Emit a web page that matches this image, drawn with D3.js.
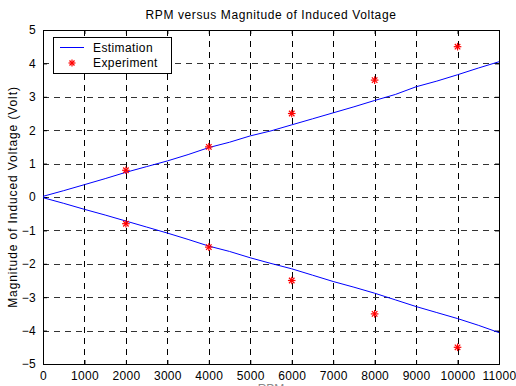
<!DOCTYPE html>
<html>
<head>
<meta charset="utf-8">
<script src="https://cdn.jsdelivr.net/npm/d3@7"></script>
<style>
  body { margin: 0; background: #fff; }
  svg { display: block; font-family: "Liberation Sans", Arial, sans-serif; }
</style>
</head>
<body>
<svg id="chart" width="516" height="386"></svg>
<script>
// values
var rpm = [0, 500, 1000, 1500, 2000, 2500, 3000, 3500, 4000, 4500, 5000, 5500,
           6000, 6500, 7000, 7500, 8000, 8500, 9000, 9500, 10000, 10500, 11000];
var estUpper = [0.02, 0.19, 0.37, 0.55, 0.74, 0.91, 1.08, 1.27, 1.48, 1.64, 1.83, 1.98,
                2.16, 2.34, 2.52, 2.70, 2.89, 3.07, 3.30, 3.47, 3.66, 3.86, 4.05];
var estLower = [-0.02, -0.19, -0.37, -0.54, -0.72, -0.90, -1.08, -1.27, -1.47, -1.63, -1.82, -1.99,
                -2.15, -2.34, -2.53, -2.70, -2.88, -3.08, -3.28, -3.46, -3.64, -3.84, -4.06];
var expRpm = [2000, 4000, 6000, 8000, 10000];
var expUpper = [0.8, 1.5, 2.5, 3.5, 4.5];
var expLower = [-0.8, -1.5, -2.5, -3.5, -4.5];
var xTicks = [0, 1000, 2000, 3000, 4000, 5000, 6000, 7000, 8000, 9000, 10000, 11000];
var yTicks = [-5, -4, -3, -2, -1, 0, 1, 2, 3, 4, 5];

var svg = d3.select("#chart");
var margin = {left: 43, top: 30, right: 17, bottom: 22};
var W = 516, H = 386;
var x = d3.scaleLinear().domain([0, 11000]).range([margin.left, W - margin.right]);
var y = d3.scaleLinear().domain([-5, 5]).range([H - margin.bottom, margin.top]);

// grid
var grid = svg.append("g");
grid.selectAll(".gx").data(xTicks.slice(1, -1)).enter().append("line")
    .attr("x1", function(d) { return Math.round(x(d)) + 0.5; })
    .attr("x2", function(d) { return Math.round(x(d)) + 0.5; })
    .attr("y1", y(5)).attr("y2", y(-5))
    .attr("stroke", "#000").attr("stroke-dasharray", "6,5");
grid.selectAll(".gy").data(yTicks.slice(1, -1)).enter().append("line")
    .attr("x1", x(0)).attr("x2", x(11000))
    .attr("y1", function(d) { return Math.round(y(d)) + 0.5; })
    .attr("y2", function(d) { return Math.round(y(d)) + 0.5; })
    .attr("stroke", "#333").attr("stroke-dasharray", "6,5");

// axes (ticks inside, box on)
var fmt = d3.format("d");
var axB = svg.append("g").attr("transform", "translate(0," + y(-5) + ")")
    .call(d3.axisBottom(x).tickValues(xTicks).tickSize(-4).tickPadding(7).tickFormat(fmt));
var axT = svg.append("g").attr("transform", "translate(0," + y(5) + ")")
    .call(d3.axisTop(x).tickValues(xTicks).tickSize(-4).tickFormat(""));
var axL = svg.append("g").attr("transform", "translate(" + x(0) + ",0)")
    .call(d3.axisLeft(y).tickValues(yTicks).tickSize(-4).tickPadding(7).tickFormat(fmt));
var axR = svg.append("g").attr("transform", "translate(" + x(11000) + ",0)")
    .call(d3.axisRight(y).tickValues(yTicks).tickSize(-4).tickFormat(""));
[axB, axT, axL, axR].forEach(function(a) {
  a.select(".domain").attr("stroke", "#000");
  a.selectAll("text").attr("font-size", 12).attr("fill", "#000").attr("letter-spacing", 0.3)
    .attr("font-family", "Liberation Sans, Arial, sans-serif");
});

// estimation lines
var line = d3.line().x(function(d) { return x(d[0]); }).y(function(d) { return y(d[1]); });
[estUpper, estLower].forEach(function(s) {
  svg.append("path").datum(rpm.map(function(r, i) { return [r, s[i]]; }))
    .attr("d", line).attr("fill", "none").attr("stroke", "#0000ff").attr("stroke-width", 1);
});

// asterisk marker
function star(g, cx, cy, r) {
  var k = r * 0.72;
  var segs = [[-r, 0, r, 0], [0, -r, 0, r], [-k, -k, k, k], [-k, k, k, -k]];
  segs.forEach(function(s) {
    g.append("line").attr("x1", cx + s[0]).attr("y1", cy + s[1])
      .attr("x2", cx + s[2]).attr("y2", cy + s[3])
      .attr("stroke", "#ff0000").attr("stroke-width", 1.2);
  });
}
var pts = svg.append("g");
expRpm.forEach(function(r, i) {
  star(pts, x(r), y(expUpper[i]), 3.8);
  star(pts, x(r), y(expLower[i]), 3.8);
});

// legend
var lg = svg.append("g");
lg.append("rect").attr("x", 53.5).attr("y", 37.5).attr("width", 118).attr("height", 36)
  .attr("fill", "#fff").attr("stroke", "#000");
lg.append("line").attr("x1", 60).attr("x2", 84).attr("y1", 47.5).attr("y2", 47.5)
  .attr("stroke", "#0000ff");
star(lg, 72, 63, 3.5);
lg.append("text").attr("x", 93).attr("y", 51.5).attr("font-size", 12).attr("letter-spacing", 0.4).text("Estimation");
lg.append("text").attr("x", 93).attr("y", 67).attr("font-size", 12).attr("letter-spacing", 0.4).text("Experiment");

// labels
svg.append("text").attr("x", x(5500)).attr("y", 19).attr("text-anchor", "middle")
  .attr("font-size", 12).attr("letter-spacing", 0.6).text("RPM versus Magnitude of Induced Voltage");
svg.append("text").attr("transform", "translate(17," + y(0) + ") rotate(-90)")
  .attr("text-anchor", "middle").attr("font-size", 12).attr("letter-spacing", 0.9)
  .text("Magnitude of Induced Voltage (Volt)");
svg.append("text").attr("x", x(5500)).attr("y", 393).attr("text-anchor", "middle")
  .attr("font-size", 12).attr("fill", "#888").text("RPM");
</script>
</body>
</html>
